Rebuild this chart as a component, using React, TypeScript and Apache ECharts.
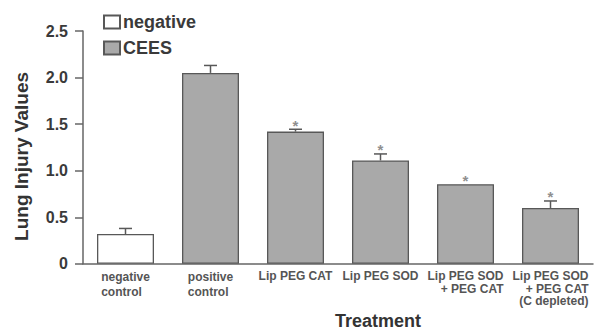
import React, { useEffect, useRef } from "react";
import * as echarts from "echarts";

const categories = [
  "negative\ncontrol",
  "positive\ncontrol",
  "Lip PEG CAT",
  "Lip PEG SOD",
  "Lip PEG SOD\n+ PEG CAT",
  "Lip PEG SOD\n+ PEG CAT\n(C depleted)",
];
const negativeValues: (number | string)[] = [0.32, "-", "-", "-", "-", "-"];
const ceesValues: (number | string)[] = ["-", 2.05, 1.42, 1.11, 0.855, 0.6];
const barValues = [0.32, 2.05, 1.42, 1.11, 0.855, 0.6];
const errorUpper = [0.38, 2.13, 1.445, 1.18, 0.855, 0.675];
const significant = [0, 0, 1, 1, 1, 1];
const labelAlign = ["la", "la", "ca", "ca", "ra", "ra"];
const yTicks = [0, 0.5, 1.0, 1.5, 2.0, 2.5];

const FONT = "'Liberation Sans', Arial, Helvetica, sans-serif";
const AXIS = "#666";
const EDGE = "#585858";

export default function App() {
  const ref = useRef<HTMLDivElement>(null);
  useEffect(() => {
    if (!ref.current) return;
    const chart = echarts.init(ref.current, undefined, { renderer: "svg" });
    const labelBase = {
      fontFamily: FONT,
      fontWeight: "bold" as const,
      fontSize: 12,
      color: "#555",
    };
    chart.setOption({
      animation: false,
      backgroundColor: "#fff",
      textStyle: { fontFamily: FONT },
      grid: { left: 83, right: 12, top: 31, bottom: 67, containLabel: false },
      legend: {
        orient: "vertical",
        left: 103,
        top: 13,
        padding: 0,
        itemWidth: 16,
        itemHeight: 13,
        itemGap: 8,
        data: [
          { name: "negative", icon: "rect" },
          { name: "CEES", icon: "rect" },
        ],
        textStyle: {
          fontFamily: FONT,
          fontWeight: "bold",
          fontSize: 18,
          lineHeight: 18,
          color: "#3a3a3a",
          padding: [0, 0, 0, -2],
        },
      },
      xAxis: {
        type: "category",
        data: categories,
        name: "Treatment",
        nameLocation: "middle",
        nameGap: 47,
        nameTextStyle: {
          fontFamily: FONT,
          fontWeight: "bold",
          fontSize: 18,
          color: "#333",
          padding: [0, 0, 0, 80],
        },
        axisLine: { lineStyle: { color: AXIS, width: 1.5 } },
        axisTick: { show: false },
        axisLabel: {
          interval: 0,
          margin: 6,
          ...labelBase,
          formatter: (value: string, index: number) =>
            value
              .split("\n")
              .map((l) => `{${labelAlign[index]}|${l}}`)
              .join("\n"),
          rich: {
            la: { ...labelBase, align: "left", lineHeight: 15 },
            ca: { ...labelBase, align: "center", lineHeight: 13 },
            ra: { ...labelBase, align: "right", lineHeight: 12.5 },
          },
        },
      },
      yAxis: {
        type: "value",
        min: yTicks[0],
        max: yTicks[yTicks.length - 1],
        interval: 0.5,
        name: "Lung Injury Values",
        nameLocation: "middle",
        nameGap: 52,
        nameTextStyle: {
          fontFamily: FONT,
          fontWeight: "bold",
          fontSize: 19,
          color: "#333",
          padding: [0, 18, 0, 0],
        },
        axisLine: { show: true, lineStyle: { color: AXIS, width: 1.5 } },
        axisTick: { show: true, length: 8, lineStyle: { color: AXIS, width: 1.5 } },
        splitLine: { show: false },
        axisLabel: {
          margin: 15,
          fontFamily: FONT,
          fontWeight: "bold",
          fontSize: 16,
          color: "#3a3a3a",
          formatter: (v: number) => (v === 0 ? "0" : v.toFixed(1)),
        },
      },
      series: [
        {
          name: "negative",
          type: "bar",
          data: negativeValues,
          barWidth: 57,
          barGap: "-100%",
          itemStyle: { color: "#ffffff", borderColor: EDGE, borderWidth: 1.3 },
        },
        {
          name: "CEES",
          type: "bar",
          data: ceesValues,
          barWidth: 57,
          barGap: "-100%",
          itemStyle: { color: "#a9a9a9", borderColor: EDGE, borderWidth: 1.3 },
        },
        {
          name: "error",
          type: "custom",
          z: 5,
          encode: { x: 0, y: [1, 2] },
          data: barValues.map((v, i) => [i, v, errorUpper[i], significant[i]]),
          renderItem: (params: any, api: any) => {
            const idx = api.value(0);
            const v = api.value(1);
            const up = api.value(2);
            const sig = api.value(3);
            const p0 = api.coord([idx, v]);
            const p1 = api.coord([idx, up]);
            const children: any[] = [];
            const stroke = { stroke: EDGE, lineWidth: 1.5 };
            if (up - v > 0.005) {
              children.push({
                type: "line",
                shape: { x1: p0[0], y1: p0[1], x2: p1[0], y2: p1[1] },
                style: stroke,
              });
              children.push({
                type: "line",
                shape: { x1: p1[0] - 6.5, y1: p1[1], x2: p1[0] + 6.5, y2: p1[1] },
                style: stroke,
              });
            }
            if (sig) {
              children.push({
                type: "text",
                style: {
                  text: "*",
                  x: p1[0],
                  y: p1[1] - 4,
                  align: "center",
                  verticalAlign: "middle",
                  fontSize: 15,
                  fontFamily: FONT,
                  fontWeight: "bold",
                  fill: "#8f8f8f",
                },
              });
            }
            return { type: "group", children };
          },
        },
      ],
    });
    return () => chart.dispose();
  }, []);
  return (
    <div
      ref={ref}
      style={{ position: "fixed", left: 0, top: 0, width: 605, height: 335, background: "#fff" }}
    />
  );
}
